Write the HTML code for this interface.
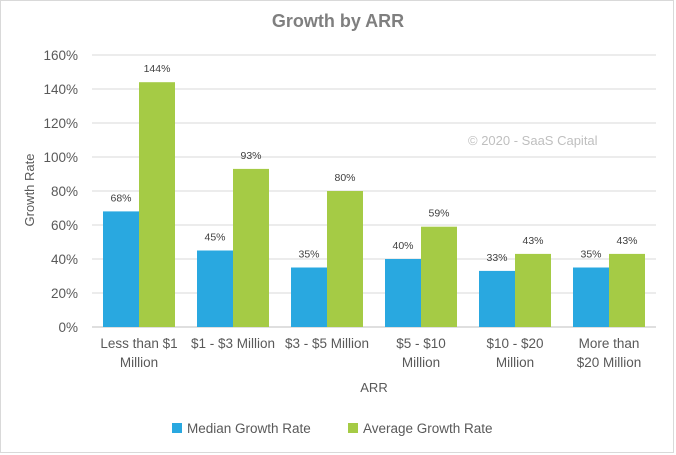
<!DOCTYPE html>
<html><head><meta charset="utf-8"><style>
body{margin:0;background:#fff;}
svg{display:block;font-family:"Liberation Sans",sans-serif;}
</style></head><body>
<svg width="676" height="455">
<rect x="0.5" y="0.5" width="673" height="452" fill="#fff" stroke="#d9d9d9"/>
<text x="338" y="27" text-anchor="middle" font-size="18" font-weight="bold" fill="#7f7f7f">Growth by ARR</text>
<text x="468" y="145" font-size="13" fill="#bfbfbf">© 2020 - SaaS Capital</text>
<g id="grid"></g><g id="bars"></g><g id="xl"></g>
<text x="34" y="190" transform="rotate(-90 34 190)" text-anchor="middle" font-size="13" fill="#595959">Growth Rate</text>
<text x="374" y="392" text-anchor="middle" font-size="13" fill="#595959">ARR</text>
<g>
<rect x="172" y="423" width="10" height="10" fill="#29a8e0"/>
<text x="187" y="433" font-size="13.5" fill="#595959">Median Growth Rate</text>
<rect x="348" y="423" width="10" height="10" fill="#a5cb45"/>
<text x="363" y="433" font-size="13.5" fill="#595959">Average Growth Rate</text>
</g>
</svg>
<script>
const categories=[["Less than $1","Million"],["$1 - $3 Million"],["$3 - $5 Million"],["$5 - $10","Million"],["$10 - $20","Million"],["More than","$20 Million"]];
const median=[68,45,35,40,33,35];
const average=[144,93,80,59,43,43];
const ticks=[0,20,40,60,80,100,120,140,160];
const NS="http://www.w3.org/2000/svg";
const L=92,R=656,T=55,B=327,MAX=160;
const bw=(R-L)/categories.length;
const y=v=>B-(v/MAX)*(B-T);
const cx=i=>L+bw*(i+0.5);
function mk(tag,at,parent,txt){const e=document.createElementNS(NS,tag);for(const k in at)e.setAttribute(k,at[k]);if(txt!==undefined)e.textContent=txt;parent.appendChild(e);return e;}
const g=document.getElementById('grid'),b=document.getElementById('bars'),xl=document.getElementById('xl');
ticks.forEach(t=>{
  const ln=mk('line',{x1:L,x2:R,y1:y(t),y2:y(t),stroke:t===0?'#bfbfbf':'#d9d9d9','stroke-width':1},g);
  
  
  const tx=mk('text',{x:78,y:y(t)+5,'text-anchor':'end','font-size':13.5,fill:'#595959'},g,t+'%');
  
  
});
categories.forEach((c,i)=>{
  const w=36;
  [[median[i],'#29a8e0',cx(i)-w,'median'],[average[i],'#a5cb45',cx(i),'average']].forEach(([v,col,x,n])=>{
    const r=mk('rect',{x:x,y:y(v),width:w,height:B-y(v),fill:col},b);
    
    
    const lb=mk('text',{x:x+w/2,y:y(v)-10,'text-anchor':'middle','font-size':10.5,fill:'#404040'},b,v+'%');
    
    
  });
  c.forEach((line,j)=>{
    const t=mk('text',{x:cx(i),y:348+j*19,'text-anchor':'middle','font-size':13.5,fill:'#595959'},xl,line);
    
    
  });
});
</script>
</body></html>
